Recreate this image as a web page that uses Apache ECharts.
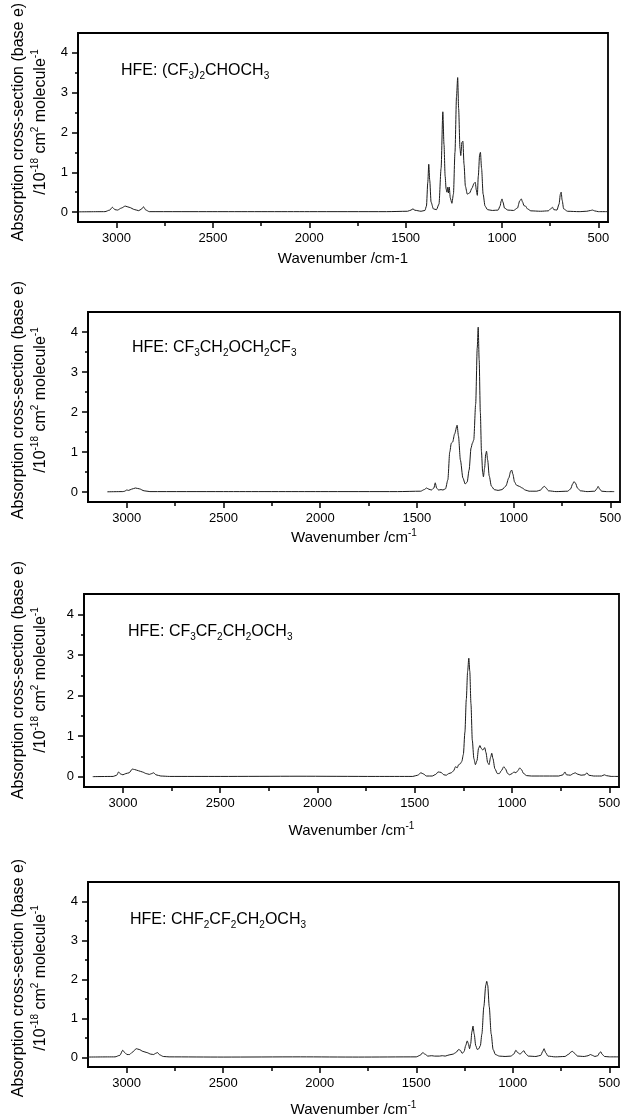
<!DOCTYPE html>
<html>
<head>
<meta charset="UTF-8">
<title>HFE absorption cross-sections</title>
<script src="https://cdn.jsdelivr.net/npm/echarts@6/dist/echarts.min.js"></script>
<style>
  html, body { margin: 0; padding: 0; background: #fff; }
  #main { width: 622px; height: 1118px; }
</style>
</head>
<body>
<div id="main"></div>
<script>
// wavenumber (cm-1) and absorption cross-section (1e-18 cm2/molecule)

// (CF3)2CHOCH3
var wn1 = [3200, 3060, 3035, 3022, 3008, 2995, 2975, 2955, 2935, 2905, 2885, 2872, 2860, 2848, 2830, 2500, 2000, 1600,
  1490, 1472, 1462, 1452, 1420, 1400, 1392, 1385, 1380, 1375, 1368, 1356, 1340, 1327, 1316, 1307, 1301, 1295, 1290,
  1286, 1282, 1278, 1274, 1268, 1260, 1252, 1244, 1236, 1230, 1225, 1218, 1214, 1208, 1203, 1197, 1190, 1180, 1168,
  1156, 1145, 1139, 1133, 1128, 1123, 1116, 1112, 1106, 1098, 1088, 1075, 1050, 1020, 1010, 1004, 1000, 995, 987,
  970, 940, 920, 908, 900, 893, 886, 878, 868, 850, 800, 760, 745, 738, 731, 715, 704, 697, 693, 688, 680, 660, 600,
  560, 540, 530, 520, 500, 450];
var ab1 = [0.005, 0.01, 0.05, 0.12, 0.06, 0.05, 0.1, 0.15, 0.12, 0.06, 0.035, 0.07, 0.13, 0.05, 0.01, 0.01, 0.01, 0.01,
  0.02, 0.05, 0.08, 0.045, 0.02, 0.04, 0.15, 0.75, 1.2, 0.8, 0.25, 0.08, 0.06, 0.2, 1.1, 2.52, 1.7, 0.9, 0.58,
  0.5, 0.62, 0.48, 0.63, 0.35, 0.22, 0.45, 1.5, 2.9, 3.38, 2.6, 1.6, 1.42, 1.75, 1.78, 1.2, 0.65, 0.45, 0.48,
  0.6, 0.72, 0.75, 0.55, 0.42, 0.9, 1.45, 1.5, 1.1, 0.45, 0.15, 0.06, 0.04, 0.05, 0.15, 0.28, 0.33, 0.25, 0.1,
  0.05, 0.04, 0.1, 0.28, 0.33, 0.25, 0.16, 0.15, 0.08, 0.03, 0.02, 0.03, 0.09, 0.12, 0.06, 0.05, 0.2, 0.45, 0.5, 0.3, 0.08, 0.02, 0.01,
  0.02, 0.04, 0.05, 0.03, 0.01, 0.01];

// CF3CH2OCH2CF3
var wn2 = [3100, 3020, 3010, 3000, 2990, 2975, 2955, 2935, 2910, 2880, 2500, 2000, 1600, 1480, 1462, 1450, 1438, 1425,
  1412, 1405, 1398, 1388, 1375, 1365, 1352, 1340, 1330, 1322, 1315, 1305, 1292, 1285, 1275, 1262, 1250, 1240, 1230,
  1220, 1213, 1206, 1196, 1188, 1183, 1178, 1172, 1166, 1160, 1156, 1150, 1144, 1140, 1134, 1126, 1115, 1100, 1080,
  1060, 1040, 1025, 1015, 1010, 1004, 995, 985, 970, 955, 940, 920, 880, 860, 848, 840, 832, 820, 780, 720, 705,
  695, 688, 680, 670, 655, 620, 580, 570, 563, 556, 545, 520, 480];
var ab2 = [0.005, 0.01, 0.02, 0.05, 0.04, 0.07, 0.1, 0.08, 0.03, 0.01, 0.01, 0.01, 0.01, 0.02, 0.06, 0.1, 0.07, 0.05,
  0.1, 0.23, 0.1, 0.05, 0.06, 0.05, 0.08, 0.3, 1.0, 1.22, 1.25, 1.45, 1.67, 1.4, 0.8, 0.35, 0.2, 0.25, 0.55,
  1.1, 1.22, 1.3, 2.2, 3.6, 4.12, 3.3, 2.0, 1.0, 0.5, 0.38, 0.6, 0.95, 1.02, 0.8, 0.4, 0.15, 0.06, 0.04,
  0.06, 0.15, 0.35, 0.52, 0.55, 0.45, 0.25, 0.17, 0.14, 0.1, 0.05, 0.02, 0.02, 0.05, 0.12, 0.14, 0.1, 0.03, 0.01, 0.02, 0.08,
  0.2, 0.26, 0.22, 0.1, 0.03, 0.01, 0.02, 0.08, 0.14, 0.08, 0.02, 0.01, 0.01];

// CF3CF2CH2OCH3
var wn3 = [3155, 3050, 3032, 3022, 3012, 3000, 2985, 2968, 2952, 2940, 2920, 2900, 2880, 2864, 2852, 2842, 2830, 2805,
  2760, 2500, 2100, 1700, 1510, 1485, 1468, 1455, 1440, 1410, 1392, 1380, 1365, 1350, 1338, 1325, 1312, 1300, 1290,
  1282, 1274, 1266, 1258, 1250, 1242, 1235, 1228, 1222, 1217, 1211, 1204, 1196, 1188, 1180, 1172, 1165, 1158, 1150,
  1140, 1134, 1125, 1118, 1110, 1104, 1098, 1088, 1075, 1065, 1055, 1042, 1034, 1022, 1012, 1000, 990, 980, 970,
  960, 952, 940, 925, 900, 820, 760, 738, 728, 720, 700, 685, 675, 665, 645, 625, 615, 605, 580, 540, 525, 515, 490, 450];
var ab3 = [0.005, 0.01, 0.04, 0.12, 0.07, 0.05, 0.08, 0.1, 0.19, 0.18, 0.15, 0.12, 0.08, 0.06, 0.08, 0.1, 0.05, 0.02,
  0.01, 0.01, 0.015, 0.01, 0.01, 0.04, 0.1, 0.07, 0.02, 0.02, 0.06, 0.12, 0.11, 0.05, 0.04, 0.08, 0.1, 0.15, 0.25,
  0.22, 0.3, 0.32, 0.38, 0.55, 1.1, 1.9, 2.6, 2.92, 2.6, 1.8, 0.9, 0.45, 0.3, 0.4, 0.7, 0.77, 0.7, 0.66,
  0.72, 0.6, 0.35, 0.3, 0.48, 0.58, 0.45, 0.2, 0.08, 0.08, 0.15, 0.25, 0.2, 0.08, 0.05, 0.08, 0.12, 0.1, 0.15,
  0.22, 0.18, 0.08, 0.03, 0.02, 0.02, 0.02, 0.05, 0.12, 0.05, 0.04, 0.08, 0.1, 0.07, 0.04, 0.05, 0.1, 0.04, 0.02, 0.02, 0.05, 0.03, 0.01, 0.01];

// CHF2CF2CH2OCH3
var wn4 = [3210, 3060, 3035, 3020, 3010, 2998, 2985, 2970, 2950, 2935, 2915, 2895, 2875, 2860, 2850, 2840, 2828, 2810,
  2780, 2500, 2100, 1800, 1500, 1480, 1466, 1455, 1440, 1420, 1405, 1380, 1365, 1350, 1330, 1310, 1295, 1280, 1272,
  1262, 1252, 1244, 1236, 1230, 1224, 1218, 1212, 1206, 1200, 1192, 1184, 1176, 1168, 1160, 1150, 1140, 1135, 1130,
  1122, 1112, 1102, 1090, 1070, 1040, 1010, 995, 984, 975, 962, 952, 943, 935, 920, 880, 855, 845, 838, 830, 818,
  780, 730, 710, 698, 690, 680, 665, 630, 610, 598, 588, 575, 560, 550, 544, 538, 525, 500, 450];
var ab4 = [0.005, 0.01, 0.05, 0.18, 0.12, 0.07, 0.07, 0.13, 0.22, 0.2, 0.15, 0.12, 0.08, 0.07, 0.1, 0.12, 0.06, 0.02,
  0.01, 0.005, 0.01, 0.005, 0.01, 0.05, 0.12, 0.08, 0.03, 0.04, 0.03, 0.03, 0.04, 0.03, 0.06, 0.08, 0.12, 0.2, 0.18,
  0.1, 0.15, 0.3, 0.42, 0.35, 0.22, 0.35, 0.65, 0.8, 0.6, 0.3, 0.2, 0.22, 0.3, 0.6, 1.3, 1.85, 1.95, 1.85,
  1.3, 0.6, 0.2, 0.07, 0.03, 0.02, 0.03, 0.08, 0.18, 0.12, 0.08, 0.13, 0.17, 0.1, 0.03, 0.02, 0.05, 0.15, 0.22, 0.12, 0.03,
  0.01, 0.02, 0.08, 0.14, 0.15, 0.1, 0.03, 0.02, 0.04, 0.07, 0.05, 0.02, 0.04, 0.12, 0.14, 0.08, 0.02, 0.01, 0.01];

var xTicks = [500, 1000, 1500, 2000, 2500, 3000];
var xMinorTicks = [750, 1250, 1750, 2250, 2750];
var yTicks = [0, 1, 2, 3, 4];
var yMinorTicks = [0.5, 1.5, 2.5, 3.5];

var labels = [
  'HFE: (CF{sub|3}){sub|2}CHOCH{sub|3}',
  'HFE: CF{sub|3}CH{sub|2}OCH{sub|2}CF{sub|3}',
  'HFE: CF{sub|3}CF{sub|2}CH{sub|2}OCH{sub|3}',
  'HFE: CHF{sub|2}CF{sub|2}CH{sub|2}OCH{sub|3}'
];
var xNames = ['Wavenumber /cm-1', 'Wavenumber /cm{sup|-1}', 'Wavenumber /cm{sup|-1}', 'Wavenumber /cm{sup|-1}'];
var yName = 'Absorption cross-section (base e)\n/10{sup|-18} cm{sup|2} molecule{sup|-1}';

var spectra = [[wn1, ab1], [wn2, ab2], [wn3, ab3], [wn4, ab4]];

// panel layout in pixels
var panels = [
  { left: 78, top: 33, width: 530, height: 189, yTitle: 122, xTitle: 259, labelX: 121, labelY: 71 },
  { left: 88, top: 312, width: 532, height: 190, yTitle: 400, xTitle: 538, labelX: 132, labelY: 348 },
  { left: 84, top: 594, width: 535, height: 193, yTitle: 680, xTitle: 831, labelX: 128, labelY: 632 },
  { left: 88, top: 882, width: 531, height: 185, yTitle: 978, xTitle: 1110, labelX: 130, labelY: 920 }
];

var FONT = '"Liberation Sans", Arial, Helvetica, sans-serif';
var plain = function (v) { return String(v); };

var grids = [], xAxes = [], yAxes = [], series = [], graphics = [];

// one axis for line + labels, one for major ticks, one for minor ticks
function xAxisSet(i, kind) {
  var a = {
    type: 'value', gridIndex: i, inverse: true, min: 450, max: 3200, position: 'bottom',
    axisLine: { show: false, onZero: false }, axisTick: { show: false }, axisLabel: { show: false }, splitLine: { show: false }
  };
  if (kind === 'main') {
    a.axisLine = { show: true, onZero: false, lineStyle: { color: '#000', width: 1.8 } };
    a.axisLabel = { customValues: xTicks, formatter: plain, margin: 10, fontSize: 13, color: '#000', fontFamily: FONT };
  } else {
    a.axisTick = { show: true, inside: false, length: kind === 'major' ? 6 : 4,
      customValues: kind === 'major' ? xTicks : xMinorTicks, lineStyle: { color: '#000', width: 1.5 } };
  }
  return a;
}
function yAxisSet(i, kind) {
  var a = {
    type: 'value', gridIndex: i, min: -0.25, max: 4.5, position: 'left',
    axisLine: { show: false, onZero: false }, axisTick: { show: false }, axisLabel: { show: false }, splitLine: { show: false }
  };
  if (kind === 'main') {
    a.axisLine = { show: true, onZero: false, lineStyle: { color: '#000', width: 1.8 } };
    a.axisLabel = { customValues: yTicks, formatter: plain, margin: 10, fontSize: 13, color: '#000', fontFamily: FONT };
  } else {
    a.axisTick = { show: true, inside: false, length: kind === 'major' ? 6 : 3,
      customValues: kind === 'major' ? yTicks : yMinorTicks, lineStyle: { color: '#000', width: 1.5 } };
  }
  return a;
}

panels.forEach(function (p, i) {
  grids.push({
    left: p.left, top: p.top, width: p.width, height: p.height,
    outerBoundsMode: 'none', containLabel: false,
    show: true, borderColor: '#000', borderWidth: 1.8, backgroundColor: 'transparent'
  });

  xAxes.push(xAxisSet(i, 'main'), xAxisSet(i, 'major'), xAxisSet(i, 'minor'));
  yAxes.push(yAxisSet(i, 'main'), yAxisSet(i, 'major'), yAxisSet(i, 'minor'));

  var wn = spectra[i][0], ab = spectra[i][1];
  var pts = wn.map(function (w, k) { return [w, ab[k]]; });
  series.push({
    type: 'line', xAxisIndex: i * 3, yAxisIndex: i * 3, data: pts,
    showSymbol: false, symbol: 'none', smooth: 0.25, smoothMonotone: 'x',
    lineStyle: { color: '#1a1a1a', width: 1 }, silent: true, animation: false
  });

  graphics.push({
    type: 'text', x: 30, y: p.yTitle, rotation: Math.PI / 2,
    style: {
      text: yName, fill: '#000', fontSize: 16, fontFamily: FONT, lineHeight: 22,
      align: 'center', verticalAlign: 'middle',
      rich: { sup: { fontSize: 10, lineHeight: 11, verticalAlign: 'top', fill: '#000', fontFamily: FONT } }
    }
  });
  graphics.push({
    type: 'text', x: p.left + p.width / 2, y: p.xTitle,
    style: {
      text: xNames[i], fill: '#000', fontSize: 15, fontFamily: FONT, lineHeight: 20,
      align: 'center', verticalAlign: 'middle',
      rich: { sup: { fontSize: 10, lineHeight: 11, verticalAlign: 'top', fill: '#000', fontFamily: FONT } }
    }
  });
  graphics.push({
    type: 'text', x: p.labelX, y: p.labelY,
    style: {
      text: labels[i], fill: '#000', fontSize: 16, fontFamily: FONT, lineHeight: 20,
      align: 'left', verticalAlign: 'middle',
      rich: { sub: { fontSize: 10, lineHeight: 10, verticalAlign: 'bottom', fill: '#000', fontFamily: FONT } }
    }
  });
});

var myChart = echarts.init(document.getElementById('main'), null, { renderer: 'canvas' });
myChart.setOption({
  backgroundColor: '#fff',
  animation: false,
  grid: grids,
  xAxis: xAxes,
  yAxis: yAxes,
  series: series,
  graphic: graphics
});
</script>
</body>
</html>
